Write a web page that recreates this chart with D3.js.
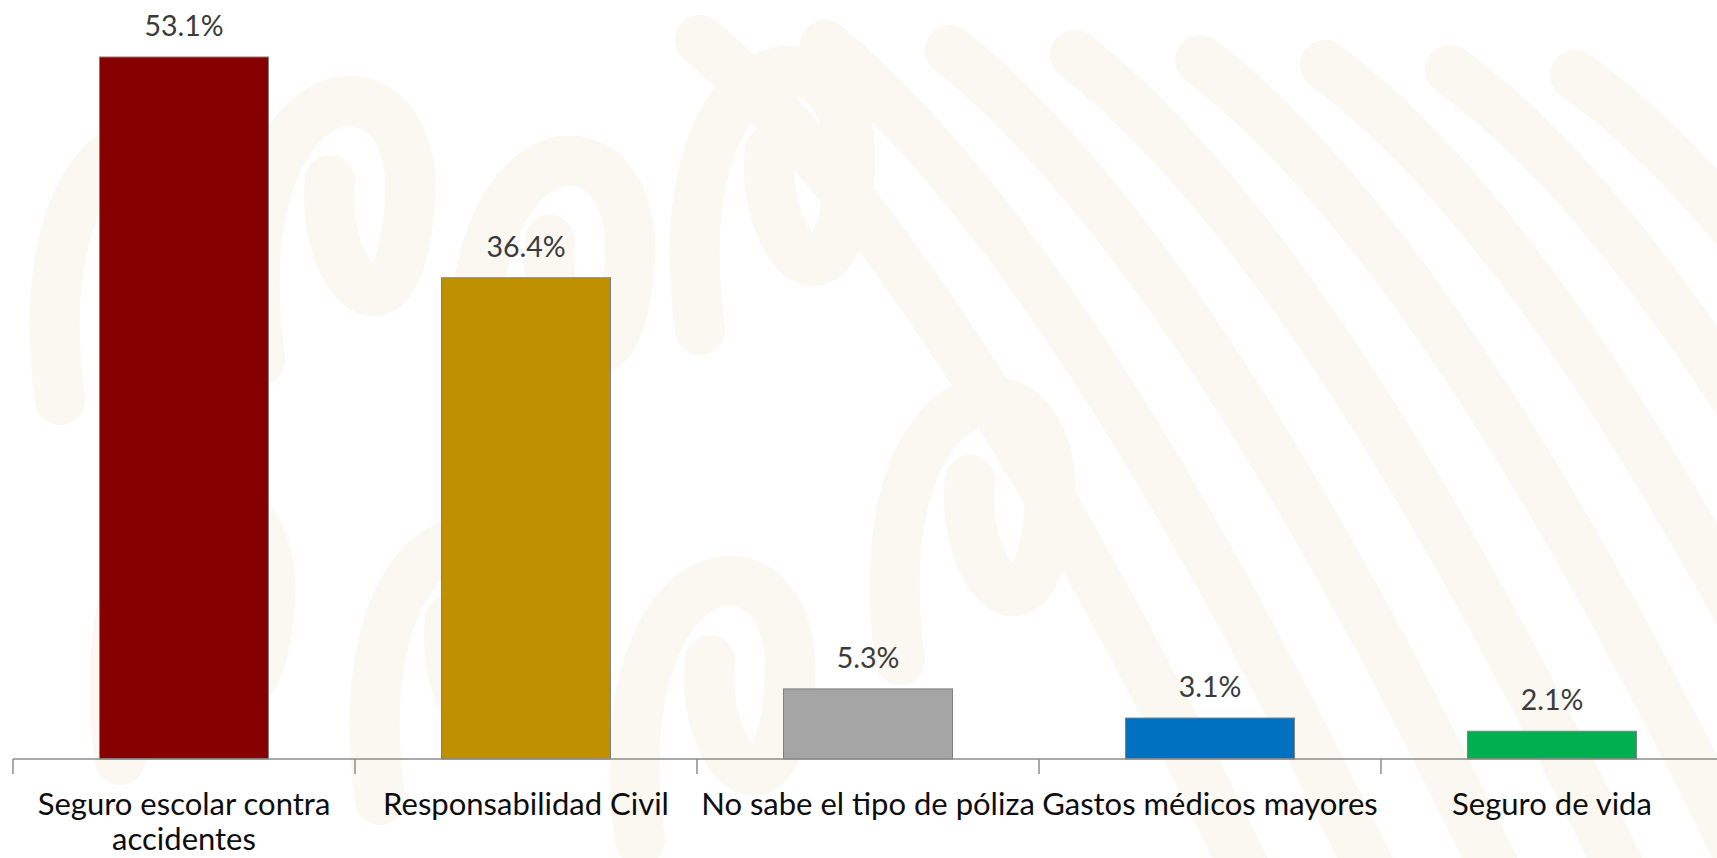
<!DOCTYPE html>
<html>
<head>
<meta charset="utf-8">
<script src="https://cdn.jsdelivr.net/npm/d3@7"></script>
<style>
  html, body { margin: 0; padding: 0; background: #ffffff; overflow: hidden; }
  svg { display: block; }
  .valueLabel { font-family: Lato, "Open Sans", sans-serif; font-size: 28.5px; fill: #3a3a3a; }
  .catLabel { font-family: Lato, "Open Sans", sans-serif; font-size: 31px; fill: #0d0d0d; }
</style>
</head>
<body>
<script>
// chart values
var categories = ["Seguro escolar contra accidentes", "Responsabilidad Civil",
                  "No sabe el tipo de póliza", "Gastos médicos mayores", "Seguro de vida"]
var tickLines = [["Seguro escolar contra", "accidentes"], ["Responsabilidad Civil"],
                 ["No sabe el tipo de póliza"], ["Gastos médicos mayores"], ["Seguro de vida"]]
var values = [53.1, 36.4, 5.3, 3.1, 2.1]
var valueLabels = ["53.1%", "36.4%", "5.3%", "3.1%", "2.1%"]
var barColors = ["#870000", "#bf9000", "#a5a5a5", "#0070c0", "#00b050"]

var width = 1717
var height = 858
var axisY = 759
var left = 13

var svg = d3.select("body")
  .append("svg")
  .attr("width", width)
  .attr("height", height)

// faint watermark pattern in the background
var wm = svg.append("g")
  .attr("fill", "none")
  .attr("stroke", "#fbf7f1")
  .attr("stroke-linecap", "round")
  .attr("stroke-width", 50)

var diag = [0, 1, 2, 3, 4, 5, 6, 7]
diag.forEach(function(i) {
  var x0 = 1000 + i * 125 - 300
  wm.append("path")
    .attr("d", "M" + x0 + "," + (40 + i * 5) + " Q" + (x0 + 250) + "," + 250 + " " + (x0 + 560) + "," + 900)
})
var swirls = [[60, 160], [260, 120], [480, 180], [700, 90], [120, 520], [380, 560], [640, 600], [900, 420]]
swirls.forEach(function(s) {
  wm.append("path")
    .attr("d", "M" + s[0] + "," + (s[1] + 240) + " C" + (s[0] - 40) + "," + (s[1] - 60) + " "
      + (s[0] + 160) + "," + (s[1] - 80) + " " + (s[0] + 150) + "," + (s[1] + 80)
      + " S" + (s[0] + 60) + "," + (s[1] + 160) + " " + (s[0] + 70) + "," + (s[1] + 60))
})

var xScale = d3.scaleBand()
  .domain(categories)
  .range([left, left + 5 * 342])
  .paddingInner(0.506)
  .paddingOuter(0.253)

var yScale = d3.scaleLinear()
  .domain([0, 53.1])
  .range([axisY, 57])

var data = categories.map(function(c, i) {
  return {"cat": c, "value": values[i], "label": valueLabels[i], "color": barColors[i], "lines": tickLines[i]}
})

svg.append("g")
  .attr("id", "bars")
  .selectAll("rect")
  .data(data)
  .enter()
  .append("rect")
  .attr("x", function(d) { return xScale(d.cat) })
  .attr("y", function(d) { return yScale(d.value) })
  .attr("width", xScale.bandwidth())
  .attr("height", function(d) { return axisY - yScale(d.value) })
  .attr("fill", function(d) { return d.color })
  .attr("stroke", "#7f7f7f")
  .attr("stroke-width", 1)

svg.append("g")
  .attr("id", "values")
  .selectAll("text")
  .data(data)
  .enter()
  .append("text")
  .attr("class", "valueLabel")
  .attr("text-anchor", "middle")
  .attr("x", function(d) { return xScale(d.cat) + xScale.bandwidth() / 2 })
  .attr("y", function(d) { return yScale(d.value) - 21 })
  .text(function(d) { return d.label })

// category axis: ticks sit between the bands
var step = xScale.step()
var xAxis = d3.axisBottom(xScale)
  .tickSize(0)
  .tickFormat("")

var axis = svg.append("g")
  .attr("id", "xAxis")
  .attr("transform", "translate(0," + axisY + ")")
  .call(xAxis)
axis.select(".domain")
  .attr("stroke", "#8c8c8c")
  .attr("stroke-width", 1.5)
  .attr("d", "M" + left + ",0H" + (left + 5 * step))

d3.range(categories.length + 1).forEach(function(i) {
  axis.append("line")
    .attr("x1", left + i * step)
    .attr("x2", left + i * step)
    .attr("y1", 0)
    .attr("y2", 15)
    .attr("stroke", "#8c8c8c")
    .attr("stroke-width", 1.5)
})

var cats = svg.append("g")
  .attr("id", "catLabels")
  .selectAll("text")
  .data(data)
  .enter()
  .append("text")
  .attr("class", "catLabel")
  .attr("text-anchor", "middle")
  .attr("x", function(d) { return xScale(d.cat) + xScale.bandwidth() / 2 })
  .attr("y", 815)

cats.selectAll("tspan")
  .data(function(d) { return d.lines })
  .enter()
  .append("tspan")
  .attr("x", function() { var p = d3.select(this.parentNode).datum(); return xScale(p.cat) + xScale.bandwidth() / 2 })
  .attr("dy", function(d, i) { return i == 0 ? 0 : 35 })
  .text(function(d) { return d })
</script>
</body>
</html>
